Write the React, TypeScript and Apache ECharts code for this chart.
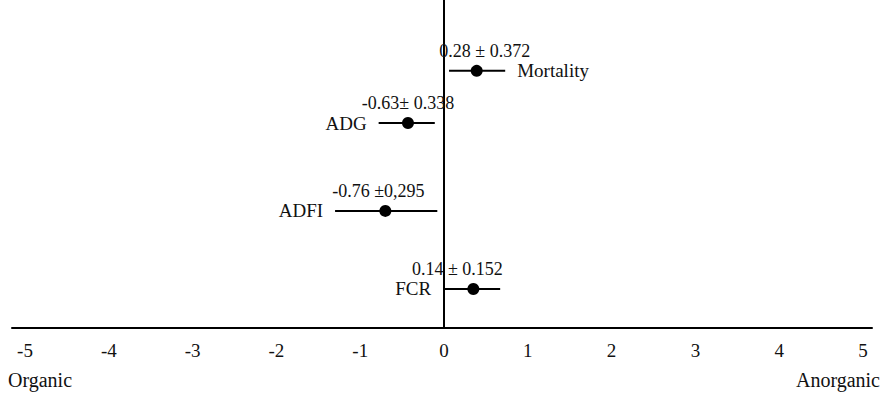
import React, { useEffect, useRef } from "react";
import * as echarts from "echarts";

const categories = ["Mortality", "ADG", "ADFI", "FCR"];
const rowPositions = [7.84, 6.25, 3.57, 1.19];
const means = [0.39, -0.43, -0.7, 0.35];
const lows = [0.06, -0.78, -1.3, -0.01];
const highs = [0.73, -0.11, -0.08, 0.67];
const annotations = ["0.28 ± 0.372", "-0.63± 0.338", "-0.76 ±0,295", "0.14 ± 0.152"];
const tickValues = [-5, -4, -3, -2, -1, 0, 1, 2, 3, 4, 5];
const sideLabels = ["Organic", "Anorganic"];

const FONT = "Liberation Serif";
const nameOnRight = [true, false, false, false];
const annotationDx = [8, 0, -7, -16];

export default function App() {
  const ref = useRef<HTMLDivElement>(null);
  useEffect(() => {
    if (!ref.current) return;
    const chart = echarts.init(ref.current, null, { renderer: "svg" });
    const data = categories.map((c, i) => [means[i], rowPositions[i], lows[i], highs[i], i]);
    const textStyle = { fill: "#111", fontSize: 19, fontFamily: FONT };
    const sideStyle = { fill: "#111", fontSize: 20, fontFamily: FONT };
    const annStyle = { fill: "#111", fontSize: 18, fontFamily: FONT };
    chart.setOption({
      animation: false,
      backgroundColor: "#fff",
      grid: { left: 12, right: 13, top: 0, bottom: 70, containLabel: false, outerBoundsMode: "none" },
      xAxis: {
        type: "value",
        min: -5.155,
        max: 5.107,
        axisLine: { show: true, onZero: false, lineStyle: { color: "#000", width: 2 } },
        axisTick: { show: false },
        splitLine: { show: false },
        axisLabel: {
          customValues: tickValues,
          margin: 13,
          color: "#111",
          fontFamily: FONT,
          fontSize: 19,
        },
      },
      yAxis: {
        type: "value",
        min: 0,
        max: 10,
        axisLine: { show: true, onZero: true, lineStyle: { color: "#000", width: 2 } },
        axisTick: { show: false },
        axisLabel: { show: false },
        splitLine: { show: false },
      },
      series: [
        {
          type: "custom",
          data,
          renderItem: (params: any, api: any) => {
            const i = api.value(4);
            const y = api.value(1);
            const pLow = api.coord([api.value(2), y]);
            const pHigh = api.coord([api.value(3), y]);
            const pMean = api.coord([api.value(0), y]);
            const right = nameOnRight[i];
            return {
              type: "group",
              children: [
                {
                  type: "line",
                  shape: { x1: pLow[0], y1: pLow[1], x2: pHigh[0], y2: pHigh[1] },
                  style: { stroke: "#000", lineWidth: 2 },
                },
                {
                  type: "circle",
                  shape: { cx: pMean[0], cy: pMean[1], r: 6 },
                  style: { fill: "#000" },
                },
                {
                  type: "text",
                  x: right ? pHigh[0] + 12 : pLow[0] - 12,
                  y: pMean[1],
                  style: {
                    ...textStyle,
                    text: categories[i],
                    align: right ? "left" : "right",
                    verticalAlign: "middle",
                  },
                },
                {
                  type: "text",
                  x: pMean[0] + annotationDx[i],
                  y: pMean[1] - 20,
                  style: {
                    ...annStyle,
                    text: annotations[i],
                    align: "center",
                    verticalAlign: "middle",
                  },
                },
              ],
            };
          },
        },
      ],
      graphic: [
        {
          type: "text",
          left: 8,
          top: 370,
          style: { ...sideStyle, text: sideLabels[0] },
        },
        {
          type: "text",
          right: 5,
          top: 370,
          style: { ...sideStyle, text: sideLabels[1] },
        },
      ],
    });
    return () => chart.dispose();
  }, []);
  return (
    <div
      ref={ref}
      style={{ position: "fixed", left: 0, top: 0, width: 885, height: 398 }}
    />
  );
}
